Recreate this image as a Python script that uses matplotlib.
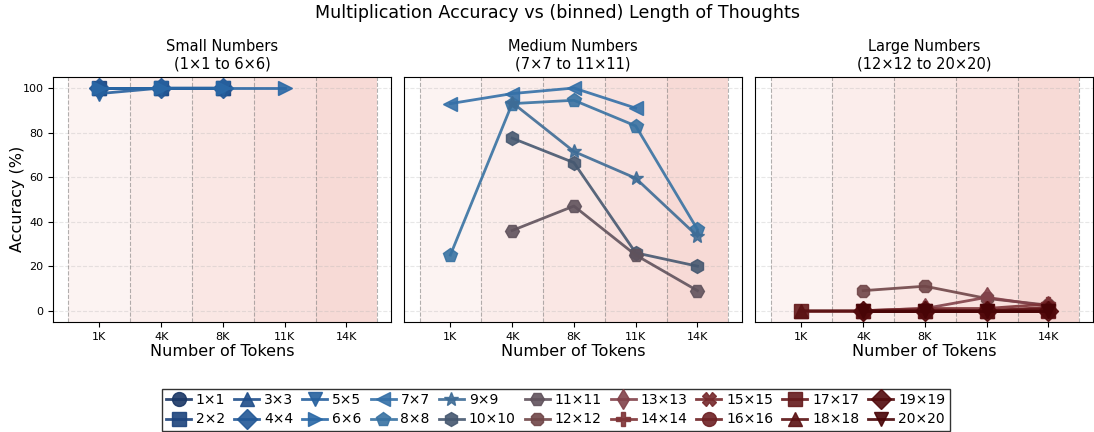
import numpy as np
import matplotlib.pyplot as plt

nan = np.nan

# token bins (x positions are bin indices)
bin_labels = ['1K', '4K', '8K', '11K', '14K']

panel_titles = ['Small Numbers\n(1×1 to 6×6)',
                'Medium Numbers\n(7×7 to 11×11)',
                'Large Numbers\n(12×12 to 20×20)']

# accuracy (%) per digit size, one value per token bin
acc = {
    1:  [100, 100, 100, nan, nan],
    2:  [100, 100, 100, nan, nan],
    3:  [100, 100, 100, nan, nan],
    4:  [100, 100, 100, nan, nan],
    5:  [97.5, 100, 100, nan, nan],
    6:  [100, 100, 100, 100, nan],
    7:  [93, 97.5, 100, 91, nan],
    8:  [25, 93, 94.5, 83, 36.5],
    9:  [nan, 93.5, 71.5, 59.5, 33.5],
    10: [nan, 77.5, 66.5, 26, 20],
    11: [nan, 36, 47, 25, 9],
    12: [nan, 9, 11, 5.5, 2.5],
    13: [nan, 0, 1, 6, 2],
    14: [nan, 0, 1, 1, 3],
    15: [nan, 0, 0.5, 0, 1.5],
    16: [nan, 0, 0, 0, 1],
    17: [0, 0, 0, 0, 0],
    18: [0, 0, 0, 0, 0.5],
    19: [nan, 0, 0, 0, 0],
    20: [nan, 0, 0, 0, 0],
}

groups = [range(1, 7), range(7, 12), range(12, 21)]

markers = ['o', 's', '^', 'D', 'v', '>', '<', 'p', '*', 'h', 'H', '8', 'd', 'P', 'X']
colors = ['#1a3766', '#1c437c', '#1f4e8a', '#225896', '#26609e', '#2a68a6',
          '#3470a8', '#3872a2', '#3e6c96', '#465870', '#60525c', '#704648',
          '#82424a', '#7e3336', '#76292c', '#6e2124', '#65191b', '#5b1113',
          '#520a0c', '#480406']

fig, axs = plt.subplots(1, 3, figsize=(10.94, 4.32), dpi=100, sharey=True)
plt.subplots_adjust(left=0.0485, right=0.999, top=0.822, bottom=0.255, wspace=0.039)

x = np.arange(len(bin_labels))
shade_alpha = [0.07, 0.11, 0.15, 0.19, 0.23]

handles = []
for k, (ax, rng, title) in enumerate(zip(axs, groups, panel_titles)):
    # shaded token bins
    for i in range(len(bin_labels)):
        ax.axvspan(i - 0.5, i + 0.5, color='#e06050', alpha=shade_alpha[i], lw=0, zorder=0)
    for e in np.arange(-0.5, len(bin_labels), 1.0):
        ax.axvline(e, color='gray', linestyle='--', linewidth=0.8, alpha=0.6, zorder=1)
    ax.grid(True, axis='y', linestyle='--', alpha=0.3)
    ax.set_axisbelow(True)

    for n in rng:
        y = np.array(acc[n], dtype=float)
        m = markers[(n - 1) % len(markers)]
        line, = ax.plot(x, y, marker=m, color=colors[n - 1], markersize=10,
                        linewidth=2, alpha=0.9, label=f'{n}×{n}', zorder=3)
        handles.append(line)

    ax.set_xticks(x)
    ax.set_xticklabels(bin_labels, fontsize=8)
    ax.tick_params(axis='y', labelsize=8)
    if k > 0:
        ax.tick_params(axis='y', left=False)
    ax.set_xlim(-0.75, 4.72)
    ax.set_ylim(-5, 105)
    ax.set_yticks(range(0, 101, 20))
    ax.set_title(title, fontsize=10.5)
    ax.set_xlabel('Number of Tokens', fontsize=11.5, labelpad=2)

axs[0].set_ylabel('Accuracy (%)', fontsize=11.5)
axs[0].yaxis.set_label_coords(-0.083, 0.5)

fig.suptitle('Multiplication Accuracy vs (binned) Length of Thoughts', fontsize=12.6,
             x=0.51, y=0.99)

leg = fig.legend(handles=handles, loc='lower center', ncol=10, fontsize=10,
                 bbox_to_anchor=(0.508, 0.0), fancybox=False, edgecolor='black',
                 handlelength=1.8, columnspacing=0.65, handletextpad=0.35,
                 borderaxespad=0.1, labelspacing=0.4, borderpad=0.3)
leg.get_frame().set_linewidth(1.0)

plt.savefig('out.png', dpi=100)
